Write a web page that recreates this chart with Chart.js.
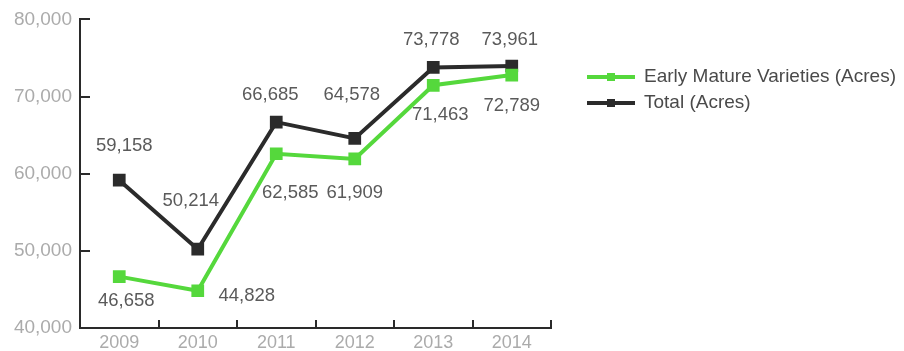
<!DOCTYPE html>
<html>
<head>
<meta charset="utf-8">
<script src="https://cdn.jsdelivr.net/npm/chart.js@4/dist/chart.umd.min.js"></script>
<style>
  html, body { margin: 0; padding: 0; background: #ffffff; }
  #wrap { position: relative; width: 904px; height: 351px; }
</style>
</head>
<body>
<div id="wrap"><canvas id="chart"></canvas></div>
<script>
// Acreage by year
const years = ['2009', '2010', '2011', '2012', '2013', '2014'];
const earlyMature = [46658, 44828, 62585, 61909, 71463, 72789];
const total = [59158, 50214, 66685, 64578, 73778, 73961];
const seriesNames = ['Early Mature Varieties (Acres)', 'Total (Acres)'];
const yTicks = [40000, 50000, 60000, 70000, 80000];

// Value-label placement relative to each point (px)
const earlyLabelOffsets = [[7, 24], [49, 5], [14, 39], [0, 34], [7, 30], [0, 31]];
const totalLabelOffsets = [[5, -34], [-7, -48], [-6, -27], [-3, -43], [-2, -27], [-2, -26]];

const GREEN = '#55d83c';
const DARK = '#2b2b2b';
const FONT = '"Liberation Sans", Arial, Helvetica, sans-serif';

const fmt = v => v.toLocaleString('en-US');

// Inward tick marks on both axes
const innerTicks = {
  id: 'innerTicks',
  afterDraw(chart) {
    const { ctx, chartArea, scales } = chart;
    const x = scales.x, y = scales.y;
    ctx.save();
    ctx.strokeStyle = '#2a2a2a';
    ctx.lineWidth = 2;
    ctx.beginPath();
    yTicks.forEach(v => {
      if (v === y.min) return;
      const py = Math.round(y.getPixelForValue(v));
      ctx.moveTo(chartArea.left, py);
      ctx.lineTo(chartArea.left + 10, py);
    });
    for (let i = 0; i < years.length; i++) {
      const px = i < years.length - 1
        ? (x.getPixelForValue(i) + x.getPixelForValue(i + 1)) / 2
        : chartArea.right;
      ctx.moveTo(Math.round(px), chartArea.bottom);
      ctx.lineTo(Math.round(px), chartArea.bottom - 8);
    }
    ctx.stroke();
    ctx.restore();
  }
};

// Numeric labels next to each point
const valueLabels = {
  id: 'valueLabels',
  afterDatasetsDraw(chart) {
    const { ctx } = chart;
    const offsets = [earlyLabelOffsets, totalLabelOffsets];
    ctx.save();
    ctx.font = '18.5px ' + FONT;
    ctx.fillStyle = '#5a5a5a';
    ctx.textAlign = 'center';
    ctx.textBaseline = 'middle';
    chart.data.datasets.forEach((ds, di) => {
      const meta = chart.getDatasetMeta(di);
      meta.data.forEach((pt, i) => {
        const [dx, dy] = offsets[di][i];
        ctx.fillText(fmt(ds.data[i]), pt.x + dx, pt.y + dy);
      });
    });
    ctx.restore();
  }
};

// Legend on the right
const sideLegend = {
  id: 'sideLegend',
  afterDraw(chart) {
    const { ctx } = chart;
    const x0 = 587, lineLen = 48, textX = 644;
    const rows = [77, 103];
    ctx.save();
    chart.data.datasets.forEach((ds, i) => {
      const yy = rows[i];
      ctx.strokeStyle = ds.borderColor;
      ctx.lineWidth = 4;
      ctx.beginPath();
      ctx.moveTo(x0, yy);
      ctx.lineTo(x0 + lineLen, yy);
      ctx.stroke();
      ctx.fillStyle = ds.borderColor;
      ctx.fillRect(x0 + lineLen / 2 - 4, yy - 4, 8, 8);
      ctx.font = '19px ' + FONT;
      ctx.fillStyle = '#4a4a4a';
      ctx.textAlign = 'left';
      ctx.textBaseline = 'middle';
      ctx.fillText(ds.label, textX, yy);
    });
    ctx.restore();
  }
};

new Chart(document.getElementById('chart'), {
  type: 'line',
  data: {
    labels: years,
    datasets: [
      {
        label: seriesNames[0],
        data: earlyMature,
        borderColor: GREEN,
        backgroundColor: GREEN,
        borderWidth: 4,
        pointStyle: 'rect',
        pointRadius: 9,
        pointBorderWidth: 0,
        pointBackgroundColor: GREEN,
        tension: 0
      },
      {
        label: seriesNames[1],
        data: total,
        borderColor: DARK,
        backgroundColor: DARK,
        borderWidth: 4,
        pointStyle: 'rect',
        pointRadius: 9,
        pointBorderWidth: 0,
        pointBackgroundColor: DARK,
        tension: 0
      }
    ]
  },
  options: {
    responsive: true,
    maintainAspectRatio: false,
    animation: false,
    layout: { padding: { left: 0, right: 353, top: 19, bottom: 0 } },
    plugins: {
      legend: { display: false },
      tooltip: { enabled: false }
    },
    scales: {
      x: {
        offset: true,
        grid: { display: false, drawTicks: false },
        border: { display: true, color: '#2a2a2a', width: 2 },
        ticks: {
          color: '#ababab',
          font: { family: FONT, size: 18 },
          padding: 4,
          maxRotation: 0
        },
        afterFit(scale) { scale.height = 23; }
      },
      y: {
        min: 40000,
        max: 80000,
        afterBuildTicks(scale) { scale.ticks = yTicks.map(v => ({ value: v })); },
        grid: { display: false, drawTicks: false },
        border: { display: true, color: '#2a2a2a', width: 2 },
        ticks: {
          color: '#ababab',
          font: { family: FONT, size: 19 },
          padding: 8,
          callback: v => fmt(v)
        },
        afterFit(scale) { scale.width = 80; }
      }
    }
  },
  plugins: [innerTicks, valueLabels, sideLegend]
});
</script>
</body>
</html>
